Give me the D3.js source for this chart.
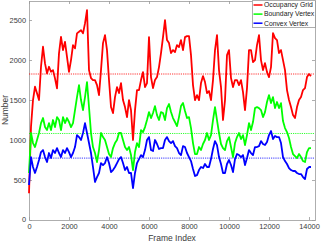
<!DOCTYPE html>
<html>
<head>
<meta charset="utf-8">
<script src="https://cdn.jsdelivr.net/npm/d3@7"></script>
<style>
  body { margin: 0; background: #fff; }
  svg { display: block; font-family: "Liberation Sans", Arial, sans-serif; }
  .axis path, .axis line { stroke: #9a9a9a; stroke-width: 0.8px; shape-rendering: crispEdges; }
  .axis text { fill: #3a3a3a; font-size: 7.4px; }
</style>
</head>
<body>
<div id="chart"></div>
<script>
// sampled every 100 frames, starting at frame 0
var frameStep = 100;

var occupancyGrid = [330, 1165, 1500, 1667, 1584, 1500, 1918, 2169, 1960, 1835,
  1918, 1855, 1876, 1772, 1647, 2086, 2294, 2127, 2231, 2043,
  1855, 2002, 2190, 2149, 2337, 2357, 2378, 2337, 2462, 2629,
  1876, 1776, 1751, 1751, 1688, 1562, 1876, 2215, 2315, 2127,
  1751, 1412, 1337, 1537, 1663, 1588, 1713, 1500, 1412, 1286,
  1500, 1374, 998, 1374, 1625, 1625, 1751, 1851, 1663, 1713,
  2290, 1788, 1650, 1751, 1788, 1914, 2090, 2290, 2504, 2253,
  2215, 2090, 2127, 2102, 2190, 2165, 2253, 2127, 2290, 2303,
  2303, 2064, 1688, 1500, 1562, 1500, 1713, 1801, 1726, 1588,
  1613, 1500, 1751, 2127, 2315, 1876, 1663, 1249, 1500, 2064,
  2127, 1776, 1663, 1751, 1751, 1688, 1751, 1600, 1374, 1650,
  2127, 2127, 1977, 2002, 2190, 2315, 2002, 1876, 1964, 1851,
  1788, 1914, 2341, 2278, 2253, 2090, 2127, 2002, 1876, 1625,
  1500, 1412, 1311, 1274, 1412, 1500, 1537, 1625, 1650, 1788,
  1826, 1801];

var boundaryVertex = [584, 1086, 960, 910, 998, 1086, 1211, 1274, 1161, 1123,
  1211, 1123, 1249, 1161, 1286, 1249, 1123, 1286, 1211, 1274,
  1224, 1161, 1211, 1374, 1537, 1688, 1500, 1374, 1537, 1726,
  1412, 1086, 910, 835, 722, 872, 1086, 1035, 998, 910,
  822, 784, 897, 960, 998, 1086, 1086, 998, 910, 872,
  910, 809, 621, 847, 960, 910, 1123, 1098, 1161, 1249,
  1349, 1274, 1337, 1424, 1311, 1249, 1349, 1337, 1249, 1399,
  1450, 1349, 1274, 1224, 1173, 1286, 1424, 1462, 1362, 1274,
  1286, 1148, 960, 822, 822, 910, 872, 948, 998, 1086,
  998, 1060, 1249, 1412, 1249, 1086, 948, 897, 872, 985,
  1035, 910, 784, 960, 1035, 1086, 1010, 1060, 935, 1060,
  1211, 1123, 1224, 1399, 1412, 1399, 1374, 1286, 1349, 1475,
  1562, 1462, 1537, 1399, 1475, 1399, 1462, 1236, 1148, 1098,
  1023, 910, 822, 797, 772, 822, 784, 734, 722, 847,
  897, 897];

var convexVertex = [433, 784, 659, 584, 659, 747, 847, 872, 784, 722,
  835, 772, 872, 835, 897, 835, 784, 872, 835, 897,
  847, 784, 835, 910, 1060, 1035, 998, 1086, 1211, 1086,
  960, 835, 659, 471, 533, 584, 709, 684, 709, 784,
  709, 596, 621, 659, 709, 759, 784, 709, 621, 659,
  584, 584, 395, 584, 709, 759, 809, 784, 872, 998,
  1035, 872, 860, 998, 948, 885, 897, 897, 998, 1035,
  985, 960, 985, 922, 897, 835, 809, 922, 910, 835,
  784, 734, 634, 546, 558, 621, 659, 646, 697, 659,
  659, 759, 885, 985, 935, 784, 697, 584, 584, 697,
  747, 684, 596, 759, 822, 809, 784, 809, 684, 772,
  872, 835, 809, 910, 910, 922, 985, 948, 935, 973,
  1060, 1111, 1010, 1048, 1035, 1035, 960, 784, 734, 697,
  646, 621, 609, 609, 584, 571, 571, 533, 508, 634,
  659, 659];

// dotted reference lines (average of each series)
var meanValues = [1827, 1080, 771];

var seriesNames = ['Occupancy Grid', 'Boundary Vertex', 'Convex Vertex'];
var seriesColors = ['#ff0000', '#00ff00', '#0000ff'];
var xTicks = [0, 2000, 4000, 6000, 8000, 10000, 12000, 14000];
var yTicks = [0, 500, 1000, 1500, 2000, 2500];

var width = 322;
var height = 244;
var margin = { top: 0.5, right: 7, bottom: 24.5, left: 29 };
var innerW = width - margin.left - margin.right;
var innerH = height - margin.top - margin.bottom;

var data = [occupancyGrid, boundaryVertex, convexVertex].map(function (vals, i) {
  return {
    name: seriesNames[i],
    color: seriesColors[i],
    mean: meanValues[i],
    values: vals.map(function (v, j) { return { frame: j * frameStep, value: v }; })
  };
});

/* Scales */
var xScale = d3.scaleLinear().domain([0, 14300]).range([0, innerW]);
var yScale = d3.scaleLinear().domain([0, 2750]).range([innerH, 0]);
var plain = d3.format('d');

var svg = d3.select('#chart').append('svg')
  .attr('width', width)
  .attr('height', height);

var g = svg.append('g')
  .attr('transform', `translate(${margin.left}, ${margin.top})`);

/* Axes, Matlab style: inward ticks mirrored on every side */
g.append('g')
  .attr('class', 'x axis')
  .attr('transform', `translate(0, ${innerH})`)
  .call(d3.axisBottom(xScale).tickValues(xTicks).tickFormat(plain)
    .tickSizeInner(-3).tickSizeOuter(0).tickPadding(4.5));
g.append('g')
  .attr('class', 'x axis')
  .call(d3.axisTop(xScale).tickValues(xTicks).tickSizeInner(-3).tickSizeOuter(0).tickFormat(''));
g.append('g')
  .attr('class', 'y axis')
  .call(d3.axisLeft(yScale).tickValues(yTicks).tickFormat(plain)
    .tickSizeInner(-3).tickSizeOuter(0).tickPadding(3));
g.append('g')
  .attr('class', 'y axis')
  .attr('transform', `translate(${innerW}, 0)`)
  .call(d3.axisRight(yScale).tickValues(yTicks).tickSizeInner(-3).tickSizeOuter(0).tickFormat(''));

/* Mean lines */
g.selectAll('.mean-line')
  .data(data).enter()
  .append('line')
  .attr('class', 'mean-line')
  .attr('x1', 0)
  .attr('x2', innerW)
  .attr('y1', d => yScale(d.mean))
  .attr('y2', d => yScale(d.mean))
  .style('stroke', d => d.color)
  .style('stroke-width', 0.8)
  .style('stroke-dasharray', '1.2,1');

/* Series */
var line = d3.line()
  .x(d => xScale(d.frame))
  .y(d => yScale(d.value));

g.selectAll('.chart-line')
  .data(data).enter()
  .append('path')
  .attr('class', 'chart-line')
  .attr('d', d => line(d.values))
  .style('fill', 'none')
  .style('stroke', d => d.color)
  .style('stroke-width', 1.8)
  .style('stroke-linejoin', 'round');

/* Axis labels */
svg.append('text')
  .attr('x', margin.left + innerW / 2)
  .attr('y', 241)
  .attr('text-anchor', 'middle')
  .attr('font-size', 8.5)
  .attr('fill', '#3a3a3a')
  .text('Frame Index');

svg.append('text')
  .attr('transform', `translate(8, ${margin.top + innerH / 2}) rotate(-90)`)
  .attr('text-anchor', 'middle')
  .attr('font-size', 8.5)
  .attr('fill', '#3a3a3a')
  .text('Number');

//========= legend ============//
var legendBox = { x: 252, y: 0.5, w: 63, h: 27 };
var legend = svg.append('g').attr('class', 'legend');
legend.append('rect')
  .attr('x', legendBox.x)
  .attr('y', legendBox.y)
  .attr('width', legendBox.w)
  .attr('height', legendBox.h)
  .attr('fill', '#fff')
  .attr('stroke', '#9a9a9a')
  .attr('stroke-width', 0.8)
  .attr('shape-rendering', 'crispEdges');

var item = legend.selectAll('.item')
  .data(data).enter()
  .append('g')
  .attr('class', 'item')
  .attr('transform', (d, i) => `translate(${legendBox.x + 1.5}, ${5 + i * 9.1})`);

item.append('line')
  .attr('x1', 0)
  .attr('x2', 9)
  .style('stroke', d => d.color)
  .style('stroke-width', 1.5);

item.append('text')
  .attr('x', 10.5)
  .attr('dy', '0.35em')
  .attr('font-size', 6.8)
  .attr('fill', '#222')
  .text(d => d.name);
</script>
</body>
</html>
